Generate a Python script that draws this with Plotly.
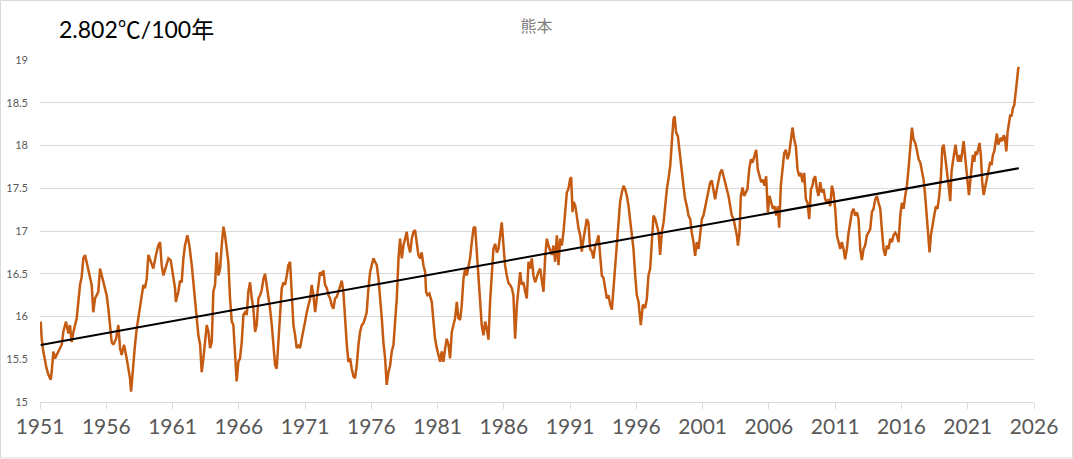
import plotly.graph_objects as go

# 熊本 年平均気温（365日移動平均）、図から読み取った値
years = [
    1951.05, 1951.13, 1951.25, 1951.38, 1951.50, 1951.63, 1951.81, 1951.88, 1952.01, 1952.13,
    1952.38, 1952.64, 1952.76, 1952.96, 1953.14, 1953.26, 1953.39, 1953.52, 1953.77, 1953.89,
    1954.02, 1954.14, 1954.27, 1954.40, 1954.57, 1954.72, 1954.90, 1955.02, 1955.15, 1955.28,
    1955.40, 1955.53, 1955.65, 1955.83, 1956.03, 1956.16, 1956.28, 1956.41, 1956.53, 1956.74,
    1956.91, 1957.04, 1957.16, 1957.34, 1957.54, 1957.67, 1957.79, 1957.87, 1957.99, 1958.17,
    1958.30, 1958.55, 1958.80, 1958.92, 1959.05, 1959.18, 1959.35, 1959.55, 1959.75, 1959.93,
    1960.06, 1960.18, 1960.31, 1960.43, 1960.56, 1960.69, 1960.86, 1961.01, 1961.19, 1961.25,
    1961.44, 1961.57, 1961.69, 1961.82, 1961.94, 1962.12, 1962.27, 1962.45, 1962.57, 1962.70,
    1962.82, 1962.95, 1963.08, 1963.20, 1963.33, 1963.45, 1963.58, 1963.71, 1963.83, 1963.96,
    1964.08, 1964.21, 1964.33, 1964.46, 1964.59, 1964.71, 1964.84, 1964.96, 1965.09, 1965.21,
    1965.34, 1965.47, 1965.59, 1965.72, 1965.84, 1965.97, 1966.09, 1966.22, 1966.35, 1966.47,
    1966.60, 1966.72, 1966.85, 1966.98, 1967.10, 1967.23, 1967.35, 1967.48, 1967.61, 1967.73,
    1967.86, 1967.98, 1968.11, 1968.23, 1968.36, 1968.49, 1968.61, 1968.74, 1968.86, 1968.99,
    1969.11, 1969.24, 1969.37, 1969.49, 1969.62, 1969.74, 1969.87, 1969.99, 1970.12, 1970.25,
    1970.37, 1970.50, 1970.62, 1970.75, 1970.87, 1971.00, 1971.13, 1971.25, 1971.38, 1971.50,
    1971.63, 1971.76, 1971.88, 1972.01, 1972.13, 1972.26, 1972.38, 1972.51, 1972.64, 1972.76,
    1972.89, 1973.01, 1973.14, 1973.26, 1973.39, 1973.52, 1973.64, 1973.77, 1973.89, 1974.02,
    1974.15, 1974.27, 1974.40, 1974.52, 1974.65, 1974.77, 1974.90, 1975.03, 1975.15, 1975.28,
    1975.40, 1975.53, 1975.65, 1975.78, 1975.91, 1976.03, 1976.16, 1976.28, 1976.41, 1976.54,
    1976.66, 1976.79, 1976.91, 1977.04, 1977.16, 1977.29, 1977.42, 1977.54, 1977.67, 1977.79,
    1977.92, 1978.05, 1978.17, 1978.30, 1978.42, 1978.55, 1978.67, 1978.80, 1978.93, 1979.05,
    1979.18, 1979.30, 1979.43, 1979.55, 1979.68, 1979.80, 1979.93, 1980.06, 1980.13, 1980.23,
    1980.38, 1980.56, 1980.69, 1980.81, 1980.94, 1981.06, 1981.19, 1981.31, 1981.44, 1981.57,
    1981.69, 1981.82, 1981.94, 1982.07, 1982.20, 1982.32, 1982.45, 1982.57, 1982.70, 1982.82,
    1982.95, 1983.08, 1983.20, 1983.33, 1983.45, 1983.58, 1983.71, 1983.83, 1983.96, 1984.08,
    1984.21, 1984.33, 1984.46, 1984.59, 1984.71, 1984.84, 1984.96, 1985.09, 1985.21, 1985.34,
    1985.47, 1985.59, 1985.72, 1985.84, 1985.97, 1986.09, 1986.22, 1986.35, 1986.47, 1986.60,
    1986.72, 1986.85, 1986.98, 1987.10, 1987.23, 1987.35, 1987.48, 1987.61, 1987.73, 1987.86,
    1987.98, 1988.11, 1988.23, 1988.36, 1988.49, 1988.61, 1988.74, 1988.86, 1988.99, 1989.11,
    1989.24, 1989.36, 1989.49, 1989.62, 1989.74, 1989.87, 1990.00, 1990.12, 1990.25, 1990.37,
    1990.50, 1990.62, 1990.75, 1990.87, 1991.00, 1991.08, 1991.18, 1991.25, 1991.38, 1991.50,
    1991.63, 1991.76, 1991.88, 1992.01, 1992.13, 1992.26, 1992.38, 1992.51, 1992.64, 1992.76,
    1992.89, 1993.01, 1993.14, 1993.27, 1993.39, 1993.52, 1993.64, 1993.77, 1993.89, 1994.02,
    1994.15, 1994.27, 1994.40, 1994.52, 1994.65, 1994.77, 1994.90, 1995.03, 1995.15, 1995.28,
    1995.40, 1995.53, 1995.66, 1995.78, 1995.91, 1996.03, 1996.16, 1996.28, 1996.33, 1996.49,
    1996.66, 1996.79, 1996.91, 1997.04, 1997.16, 1997.29, 1997.42, 1997.54, 1997.67, 1997.79,
    1997.92, 1998.05, 1998.17, 1998.30, 1998.42, 1998.55, 1998.67, 1998.80, 1998.88, 1999.00,
    1999.13, 1999.25, 1999.38, 1999.43, 1999.55, 1999.68, 1999.81, 1999.93, 2000.06, 2000.18,
    2000.31, 2000.43, 2000.56, 2000.69, 2000.81, 2000.94, 2001.06, 2001.19, 2001.31, 2001.44,
    2001.57, 2001.69, 2001.82, 2001.94, 2002.07, 2002.20, 2002.32, 2002.45, 2002.57, 2002.70,
    2002.83, 2002.95, 2003.08, 2003.20, 2003.33, 2003.45, 2003.58, 2003.66, 2003.78, 2003.88,
    2004.01, 2004.13, 2004.26, 2004.38, 2004.51, 2004.64, 2004.76, 2004.89, 2005.04, 2005.16,
    2005.29, 2005.42, 2005.54, 2005.67, 2005.79, 2005.92, 2006.04, 2006.17, 2006.30, 2006.42,
    2006.55, 2006.67, 2006.77, 2006.90, 2007.03, 2007.15, 2007.28, 2007.40, 2007.53, 2007.66,
    2007.78, 2007.91, 2008.03, 2008.16, 2008.29, 2008.41, 2008.54, 2008.66, 2008.79, 2008.91,
    2009.04, 2009.17, 2009.29, 2009.36, 2009.49, 2009.62, 2009.74, 2009.87, 2009.99, 2010.12,
    2010.25, 2010.37, 2010.50, 2010.62, 2010.75, 2010.87, 2011.00, 2011.13, 2011.25, 2011.38,
    2011.50, 2011.63, 2011.75, 2011.88, 2012.01, 2012.13, 2012.26, 2012.38, 2012.51, 2012.64,
    2012.76, 2012.89, 2013.01, 2013.14, 2013.26, 2013.39, 2013.52, 2013.64, 2013.77, 2013.89,
    2014.02, 2014.15, 2014.27, 2014.40, 2014.52, 2014.65, 2014.77, 2014.90, 2015.03, 2015.15,
    2015.28, 2015.40, 2015.53, 2015.65, 2015.78, 2015.91, 2016.03, 2016.16, 2016.28, 2016.41,
    2016.53, 2016.66, 2016.79, 2016.91, 2017.04, 2017.16, 2017.29, 2017.42, 2017.54, 2017.67,
    2017.79, 2017.92, 2018.04, 2018.12, 2018.22, 2018.35, 2018.47, 2018.60, 2018.72, 2018.85,
    2018.98, 2019.08, 2019.18, 2019.28, 2019.38, 2019.48, 2019.58, 2019.68, 2019.78, 2019.88,
    2019.98, 2020.08, 2020.18, 2020.28, 2020.38, 2020.48, 2020.59, 2020.69, 2020.79, 2020.89,
    2020.99, 2021.09, 2021.19, 2021.29, 2021.39, 2021.49, 2021.59, 2021.69, 2021.79, 2021.89,
    2021.99, 2022.09, 2022.20, 2022.30, 2022.40, 2022.50, 2022.60, 2022.70, 2022.80, 2022.90,
    2023.00, 2023.10, 2023.20, 2023.30, 2023.40, 2023.50, 2023.60, 2023.71, 2023.81, 2023.91,
    2024.01, 2024.11, 2024.21, 2024.31, 2024.41, 2024.51, 2024.61, 2024.71, 2024.81, 2024.86,
]

temps = [
    15.94, 15.74, 15.59, 15.47, 15.39, 15.32, 15.26, 15.35, 15.59, 15.51,
    15.59, 15.67, 15.82, 15.94, 15.80, 15.90, 15.70, 15.82, 15.98, 16.17,
    16.37, 16.46, 16.68, 16.72, 16.60, 16.52, 16.37, 16.05, 16.21, 16.25,
    16.29, 16.56, 16.48, 16.37, 16.25, 16.09, 15.86, 15.70, 15.67, 15.74,
    15.90, 15.63, 15.55, 15.67, 15.51, 15.39, 15.28, 15.12, 15.39, 15.67,
    15.86, 16.09, 16.37, 16.33, 16.44, 16.72, 16.64, 16.56, 16.72, 16.83,
    16.87, 16.60, 16.48, 16.54, 16.60, 16.68, 16.66, 16.52, 16.33, 16.17,
    16.29, 16.42, 16.40, 16.68, 16.83, 16.95, 16.83, 16.60, 16.40, 16.21,
    16.05, 15.78, 15.67, 15.35, 15.51, 15.74, 15.90, 15.82, 15.63, 15.70,
    16.29, 16.37, 16.75, 16.48, 16.56, 16.83, 17.05, 16.95, 16.75, 16.64,
    16.21, 15.94, 15.90, 15.59, 15.24, 15.47, 15.51, 15.70, 16.02, 16.05,
    16.02, 16.29, 16.40, 16.21, 16.09, 15.82, 15.90, 16.21, 16.25, 16.31,
    16.44, 16.50, 16.37, 16.21, 16.09, 15.90, 15.67, 15.43, 15.39, 15.70,
    16.05, 16.33, 16.40, 16.37, 16.48, 16.60, 16.64, 16.29, 15.90, 15.78,
    15.63, 15.67, 15.63, 15.74, 15.82, 15.94, 16.05, 16.13, 16.21, 16.37,
    16.25, 16.05, 16.21, 16.33, 16.52, 16.48, 16.54, 16.37, 16.33, 16.25,
    16.21, 16.13, 16.09, 16.21, 16.23, 16.29, 16.37, 16.42, 16.29, 15.90,
    15.67, 15.47, 15.51, 15.39, 15.30, 15.28, 15.43, 15.67, 15.82, 15.90,
    15.92, 15.98, 16.05, 16.33, 16.52, 16.60, 16.68, 16.64, 16.60, 16.44,
    16.25, 15.98, 15.70, 15.51, 15.20, 15.35, 15.43, 15.59, 15.67, 15.90,
    16.21, 16.68, 16.91, 16.68, 16.83, 16.91, 16.99, 16.83, 16.75, 16.91,
    16.99, 17.01, 16.83, 16.72, 16.68, 16.75, 16.60, 16.52, 16.29, 16.25,
    16.27, 16.17, 15.94, 15.74, 15.63, 15.55, 15.47, 15.59, 15.47, 15.63,
    15.74, 15.67, 15.51, 15.82, 15.90, 15.98, 16.17, 15.98, 15.96, 16.13,
    16.44, 16.56, 16.48, 16.60, 16.68, 16.87, 17.03, 17.05, 16.75, 16.44,
    16.09, 15.90, 15.78, 15.94, 15.86, 15.73, 16.17, 16.56, 16.79, 16.85,
    16.75, 16.79, 16.99, 17.10, 16.83, 16.60, 16.48, 16.39, 16.37, 16.33,
    16.25, 15.74, 16.13, 16.29, 16.52, 16.37, 16.40, 16.29, 16.21, 16.64,
    16.56, 16.68, 16.48, 16.40, 16.48, 16.52, 16.56, 16.40, 16.29, 16.68,
    16.91, 16.83, 16.76, 16.72, 16.83, 16.64, 16.95, 16.60, 16.91, 16.83,
    16.99, 17.26, 17.45, 17.49, 17.61, 17.63, 17.22, 17.34, 17.30, 17.18,
    17.03, 16.95, 16.76, 16.91, 17.03, 17.14, 17.10, 16.79, 16.76, 16.68,
    16.83, 16.87, 16.95, 16.64, 16.48, 16.45, 16.33, 16.21, 16.25, 16.14,
    16.08, 16.33, 16.60, 16.83, 17.10, 17.34, 17.45, 17.53, 17.49, 17.41,
    17.30, 17.14, 16.99, 16.79, 16.48, 16.25, 16.17, 15.98, 15.90, 16.14,
    16.10, 16.21, 16.48, 16.56, 16.91, 17.18, 17.14, 17.07, 16.99, 16.72,
    16.99, 17.10, 17.30, 17.49, 17.61, 17.76, 18.03, 18.31, 18.34, 18.15,
    18.11, 17.92, 17.72, 17.64, 17.53, 17.37, 17.29, 17.18, 17.14, 16.98,
    16.87, 16.71, 16.87, 16.79, 16.95, 17.14, 17.18, 17.29, 17.37, 17.49,
    17.57, 17.59, 17.45, 17.37, 17.49, 17.60, 17.68, 17.72, 17.64, 17.59,
    17.49, 17.41, 17.29, 17.18, 17.14, 17.06, 16.95, 16.83, 16.98, 17.41,
    17.51, 17.41, 17.45, 17.49, 17.72, 17.84, 17.80, 17.88, 17.95, 17.72,
    17.64, 17.57, 17.60, 17.53, 17.64, 17.22, 17.41, 17.33, 17.26, 17.29,
    17.18, 17.29, 17.04, 17.53, 17.76, 17.91, 17.95, 17.84, 17.91, 18.07,
    18.21, 18.07, 17.99, 17.72, 17.64, 17.68, 17.57, 17.68, 17.37, 17.33,
    17.14, 17.49, 17.53, 17.60, 17.64, 17.49, 17.41, 17.57, 17.45, 17.49,
    17.37, 17.33, 17.37, 17.29, 17.53, 17.45, 17.26, 16.95, 16.87, 16.79,
    16.87, 16.79, 16.67, 16.79, 16.98, 17.10, 17.22, 17.26, 17.18, 17.22,
    17.14, 16.79, 16.66, 16.79, 16.83, 16.95, 16.98, 17.02, 17.22, 17.26,
    17.37, 17.41, 17.33, 17.26, 17.02, 16.79, 16.71, 16.83, 16.79, 16.91,
    16.87, 16.95, 16.98, 16.95, 16.87, 17.18, 17.33, 17.26, 17.41, 17.53,
    17.72, 17.95, 18.21, 18.07, 18.03, 17.95, 17.84, 17.80, 17.68, 17.60,
    17.41, 17.14, 16.95, 16.75, 16.95, 17.10, 17.18, 17.29, 17.26, 17.41,
    17.64, 17.97, 18.01, 17.89, 17.77, 17.66, 17.50, 17.35, 17.70, 17.81,
    17.89, 18.01, 17.89, 17.81, 17.89, 17.81, 17.93, 18.05, 17.89, 17.74,
    17.58, 17.42, 17.58, 17.74, 17.89, 17.81, 17.93, 17.89, 17.97, 18.03,
    17.89, 17.58, 17.42, 17.50, 17.58, 17.62, 17.74, 17.81, 17.77, 17.89,
    17.93, 18.05, 18.14, 18.01, 18.05, 18.09, 18.05, 18.12, 18.09, 17.93,
    18.16, 18.28, 18.36, 18.34, 18.44, 18.47, 18.59, 18.75, 18.90, 18.92,
]

# 線形トレンド
trend_per_100yr = 2.802
trend_base_year = 1951
trend_base_value = 15.665

x_ticks_start = 1951
x_ticks_end = 2026

trend_x = [years[0], years[-1]]
trend_y = [trend_base_value + trend_per_100yr / 100 * (x - trend_base_year) for x in trend_x]

font_family = "Lato, 'Noto Sans CJK JP', sans-serif"

fig = go.Figure()
fig.add_trace(go.Scatter(
    x=years,
    y=temps,
    mode='lines',
    line=dict(color='#C55A11', width=2.5),
    name='熊本',
))
fig.add_trace(go.Scatter(
    x=trend_x,
    y=trend_y,
    mode='lines',
    line=dict(color='black', width=2),
    name='線形',
))

fig.update_layout(
    width=1073,
    height=459,
    margin=dict(l=40, r=39, t=60, b=57, autoexpand=False),
    paper_bgcolor='white',
    plot_bgcolor='white',
    showlegend=False,
    font=dict(family=font_family),
    title=dict(
        text='熊本',
        x=0.5,
        xanchor='center',
        y=1 - 26 / 459,
        yanchor='middle',
        font=dict(size=16, color='#7f7f7f', family="'Noto Sans CJK JP', sans-serif"),
    ),
    annotations=[dict(
        text=f'{trend_per_100yr:.3f}℃/100年',
        xref='paper', yref='paper',
        x=17 / 994, y=(402 - 29) / 342,
        xanchor='left', yanchor='middle',
        showarrow=False,
        font=dict(size=23, color='black', family=font_family),
    )],
    shapes=[dict(
        type='rect',
        xref='paper', yref='paper',
        x0=-39.5 / 994, x1=1 + 38.5 / 994,
        y0=-56 / 342, y1=1 + 59.5 / 342,
        line=dict(color='#d9d9d9', width=1),
        fillcolor='rgba(0,0,0,0)',
        layer='below',
    )],
)

fig.update_xaxes(
    range=[x_ticks_start, x_ticks_end],
    tick0=x_ticks_start,
    dtick=5,
    tickformat='d',
    automargin=False,
    showgrid=False,
    zeroline=False,
    showline=True,
    linecolor='#d9d9d9',
    linewidth=1,
    ticks='outside',
    ticklen=6,
    tickcolor='#d9d9d9',
    tickfont=dict(size=21, color='#595959'),
)
fig.update_yaxes(
    range=[15, 19],
    dtick=0.5,
    automargin=False,
    showgrid=True,
    gridcolor='#d9d9d9',
    gridwidth=1,
    zeroline=False,
    showline=False,
    ticks='',
    ticklabelstandoff=11,
    tickfont=dict(size=11, color='#595959'),
)

# ページ余白をなくす
fig.write_html(
    "out.html",
    config={'displayModeBar': False},
    post_script="document.body.style.margin='0';",
)
